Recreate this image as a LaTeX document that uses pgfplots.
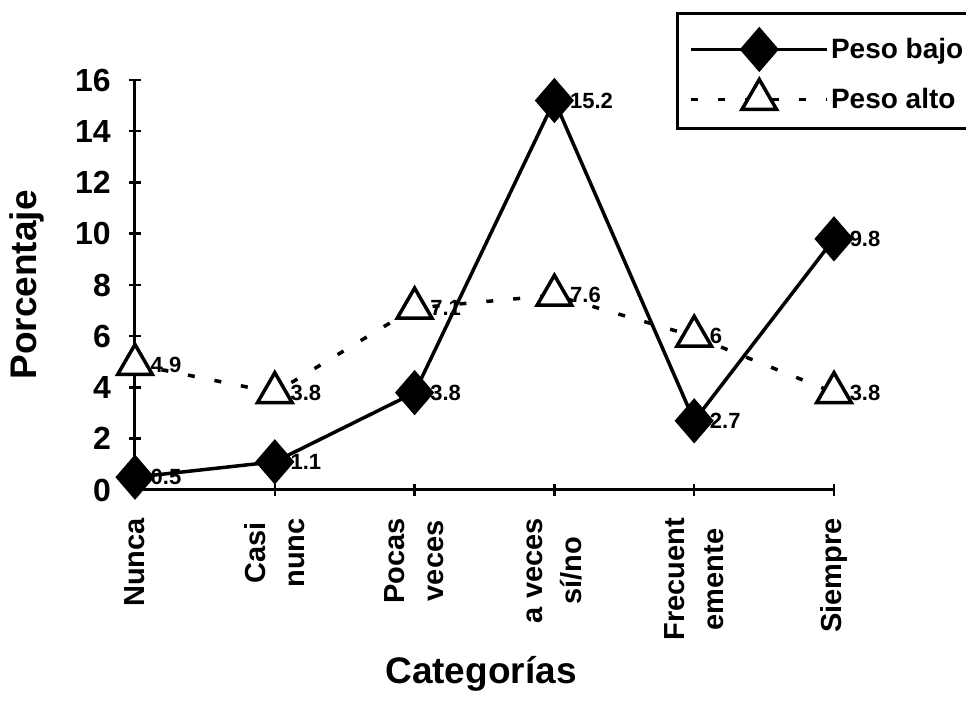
\documentclass[border=0pt]{standalone}
\usepackage{fontspec}
\setmainfont{Liberation Sans}
\usepackage{pgfplots}
\pgfplotsset{compat=1.18}

\begin{document}
\begin{tikzpicture}
\useasboundingbox (0pt,0pt) rectangle (966pt,706pt);
\begin{axis}[
    at={(135pt,216pt)}, anchor=south west,
    scale only axis, width=699pt, height=410pt,
    xmin=0, xmax=5, ymin=0, ymax=16,
    axis x line=bottom, axis y line=left,
    axis line style={-, line width=3pt},
    xtick={0,...,5}, ytick={0,2,...,16},
    xticklabels={Nunca, {Casi\\nunc}, {Pocas\\veces}, {a veces\\sí/no}, {Frecuent\\emente}, Siempre},
    tick align=center, major tick length=12pt,
    every tick/.style={black, line width=2.5pt},
    /pgf/number format/assume math mode=true,
    xticklabel style={rotate=90, anchor=east, align=center, inner sep=0pt,
        font=\fontsize{29}{39}\selectfont\bfseries},
    xticklabel shift=22pt,
    yticklabel style={inner sep=0pt, font=\fontsize{32}{36}\selectfont\bfseries},
    yticklabel shift=18pt,
    xlabel={Categorías}, ylabel={Porcentaje},
    label style={font=\fontsize{37}{44}\selectfont\bfseries},
    xlabel style={at={(axis description cs:0.495,-0.449)}, anchor=center},
    ylabel style={at={(axis description cs:-0.155,0.5)}, anchor=center},
    nodes near coords,
    every node near coord/.style={anchor=west, xshift=14pt, inner sep=0pt,
        font=\fontsize{22}{24}\selectfont\bfseries, black},
    clip=false,
    reverse legend,
    legend style={at={(axis description cs:0.774,1.166)}, anchor=north west,
        draw=black, line width=3pt, inner xsep=12pt, inner ysep=16pt,
        row sep=10pt, font=\fontsize{28}{34}\selectfont\bfseries},
    legend cell align=left,
    legend image code/.code={
        \draw[mark repeat=2, mark phase=2, #1] plot coordinates {(0pt,0pt) (68pt,0pt) (136pt,0pt)};
    },
]
% Peso alto
\addplot[black, line width=3.5pt, dash pattern=on 7pt off 20pt,
    mark=triangle*, mark size=20pt,
    mark options={solid, fill=white, draw=black, line width=3.5pt}]
    coordinates {(0,4.9) (1,3.8) (2,7.1) (3,7.6) (4,6) (5,3.8)};
\addlegendentry{Peso alto}
% Peso bajo
\addplot[black, line width=3.5pt,
    mark=diamond*, mark size=20pt,
    mark options={solid, fill=black, xscale=1.15}]
    coordinates {(0,0.5) (1,1.1) (2,3.8) (3,15.2) (4,2.7) (5,9.8)};
\addlegendentry{Peso bajo}
\end{axis}
\end{tikzpicture}
\end{document}
